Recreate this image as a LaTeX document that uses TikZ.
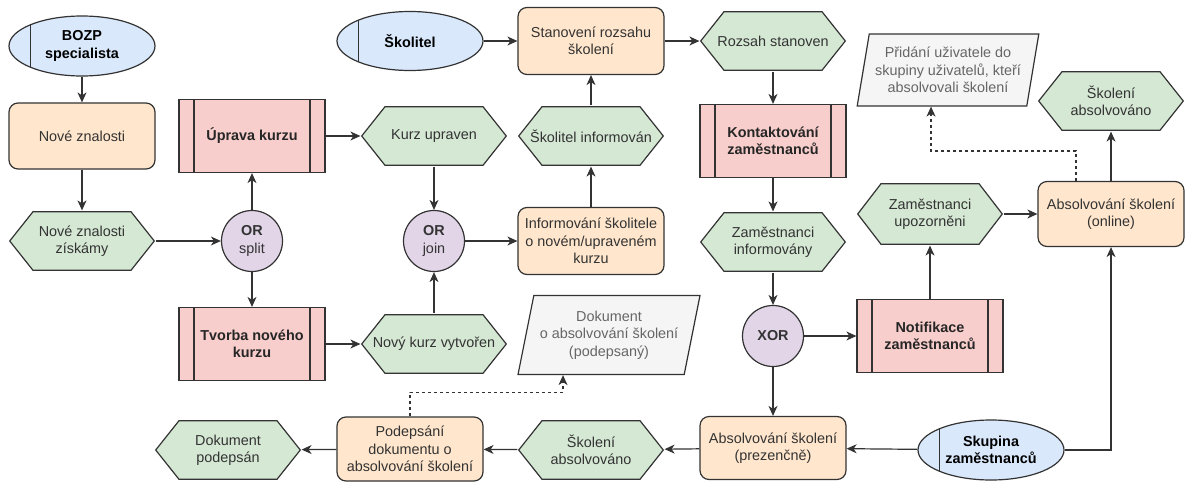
\documentclass[tikz,border=0pt]{standalone}
\usepackage{fontspec}
\setmainfont{Liberation Sans}
\usetikzlibrary{arrows.meta,shapes.geometric}

\definecolor{linec}{HTML}{333333}
\definecolor{textc}{HTML}{333333}
\definecolor{bluef}{HTML}{DAE8FC}
\definecolor{orangef}{HTML}{FFE6CC}
\definecolor{greenf}{HTML}{D5E8D4}
\definecolor{redf}{HTML}{F8CECC}
\definecolor{purplef}{HTML}{E1D5E7}
\definecolor{grayf}{HTML}{F5F5F5}
\definecolor{grayt}{HTML}{666666}

\tikzset{
  base/.style={draw=linec, line width=1.2pt, text=textc, align=center,
    inner sep=2pt, font=\fontsize{14.4}{17.4}\selectfont},
  actor/.style={base, ellipse, fill=bluef, minimum width=146pt, minimum height=60pt,
    font=\fontsize{14.4}{17.4}\selectfont\bfseries, text=black,
    path picture={\draw[linec, line width=1.2pt]
      ([xshift=21.5pt]path picture bounding box.north west) --
      ([xshift=21.5pt]path picture bounding box.south west);}},
  func/.style={base, rectangle, rounded corners=9pt, fill=orangef,
    minimum width=146pt, minimum height=66pt},
  % hexagon drawn inside a plain box
  event/.style={base, draw=none, rectangle, minimum width=146pt, minimum height=60pt,
    path picture={\filldraw[fill=greenf, draw=linec, line width=1.2pt]
      ([xshift=.7pt]path picture bounding box.west) --
      ([xshift=24pt,yshift=-.7pt]path picture bounding box.north west) --
      ([xshift=-24pt,yshift=-.7pt]path picture bounding box.north east) --
      ([xshift=-.7pt]path picture bounding box.east) --
      ([xshift=-24pt,yshift=.7pt]path picture bounding box.south east) --
      ([xshift=24pt,yshift=.7pt]path picture bounding box.south west) -- cycle;}},
  proc/.style={base, rectangle, fill=redf, minimum width=146pt, minimum height=73pt,
    font=\fontsize{14.4}{17.4}\selectfont\bfseries, text=black!85,
    path picture={\draw[linec, line width=1.2pt]
      ([xshift=15pt]path picture bounding box.north west) --
      ([xshift=15pt]path picture bounding box.south west)
      ([xshift=-15pt]path picture bounding box.north east) --
      ([xshift=-15pt]path picture bounding box.south east);}},
  conn/.style={base, circle, fill=purplef, minimum size=61pt},
  datab/.style={base, trapezium, trapezium left angle=77, trapezium right angle=103,
    trapezium stretches=true, fill=grayf, text=grayt,
    minimum width=182pt, minimum height=72pt},
  arr/.style={draw=linec, line width=1.2pt, -{Stealth[length=10pt,width=9pt,inset=3pt]}},
  darr/.style={arr, dash pattern=on 3pt off 3pt},
}

\begin{document}
\begin{tikzpicture}[x=1pt, y=-1pt]
\useasboundingbox (0,0) rectangle (1188,482);

% first column
\node[actor] (bozp) at (82,46) {BOZP\\specialista};
\node[func] (znalosti) at (82,136) {Nové znalosti};
\node[event] (ziskany) at (82,241) {Nové znalosti\\získámy};

% course
\node[conn] (orsplit) at (252,241) {\textbf{OR}\\split};
\node[proc] (uprava) at (252,136) {Úprava kurzu};
\node[proc] (tvorba) at (252,344) {Tvorba nového\\kurzu};
\node[event] (upraven) at (434,136) {Kurz upraven};
\node[conn] (orjoin) at (434,241) {\textbf{OR}\\join};
\node[event] (vytvoren) at (434,344) {Nový kurz vytvořen};

% trainer
\node[func, minimum height=67pt] (informovani) at (591,241) {Informování školitele\\o novém/upraveném\\kurzu};
\node[event] (informovan) at (591,136) {Školitel informován};
\node[func, minimum height=67pt] (stanoveni) at (591,41) {Stanovení rozsahu\\školení};
\node[actor, minimum height=59pt] (skolitel) at (410,41) {Školitel};
\node[event] (stanoven) at (773,41) {Rozsah stanoven};

% employees
\node[proc] (kontakt) at (773,141) {Kontaktování\\zaměstnanců};
\node[event] (zaminf) at (773,242) {Zaměstnanci\\informovány};
\node[conn] (xor) at (773,336) {\textbf{XOR}};
\node[proc] (notif) at (930,336) {Notifikace\\zaměstnanců};
\node[event, minimum height=62pt] (upozorneni) at (930,214) {Zaměstnanci\\upozorněni};
\node[func, minimum height=65pt] (online) at (1111,214) {Absolvování školení\\(online)};
\node[event] (absolv1) at (1111,101) {Školení\\absolvováno};
\node[datab] (pridani) at (948,70) {Přidání uživatele do\\skupiny uživatelů, kteří\\absolvovali školení};

% bottom row
\node[func, minimum height=63pt] (prezencne) at (773,448) {Absolvování školení\\(prezenčně)};
\node[actor] (skupina) at (991,450) {Skupina\\zaměstnanců};
\node[event] (absolv2) at (591,450) {Školení\\absolvováno};
\node[func, minimum height=64pt] (podepsani) at (410,449) {Podepsání\\dokumentu o\\absolvování školení};
\node[event] (podepsan) at (228,450) {Dokument\\podepsán};
\node[datab, minimum height=79pt, trapezium left angle=74, trapezium right angle=106] (dokument) at (609,335) {Dokument\\o absolvování školení\\(podepsaný)};

% connectors
\draw[arr] (bozp) -- (znalosti);
\draw[arr] (znalosti) -- (ziskany);
\draw[arr] (ziskany) -- (orsplit);
\draw[arr] (orsplit) -- (uprava);
\draw[arr] (orsplit) -- (tvorba);
\draw[arr] (uprava) -- (upraven);
\draw[arr] (tvorba) -- (vytvoren);
\draw[arr] (upraven) -- (orjoin);
\draw[arr] (vytvoren) -- (orjoin);
\draw[arr] (orjoin) -- (informovani);
\draw[arr] (informovani) -- (informovan);
\draw[arr] (informovan) -- (stanoveni);
\draw[arr] (skolitel) -- (stanoveni);
\draw[arr] (stanoveni) -- (stanoven);
\draw[arr] (stanoven) -- (kontakt);
\draw[arr] (kontakt) -- (zaminf);
\draw[arr] (zaminf) -- (xor);
\draw[arr] (xor) -- (notif);
\draw[arr] (xor) -- (prezencne);
\draw[arr] (notif) -- (upozorneni);
\draw[arr] (upozorneni) -- (online);
\draw[arr] (online) -- (absolv1);
\draw[darr] ([xshift=-35pt]online.north) -- ++(0,-30) -| ([xshift=-17pt]pridani.south);
\draw[arr] (skupina) -- (prezencne);
\draw[arr] (skupina.east) -| (online.south);
\draw[arr] (prezencne) -- (absolv2);
\draw[arr] (absolv2) -- (podepsani);
\draw[arr] (podepsani) -- (podepsan);
\draw[darr] (podepsani.north) -- ++(0,-24) -| ([xshift=-46pt]dokument.south);
\end{tikzpicture}
\end{document}
